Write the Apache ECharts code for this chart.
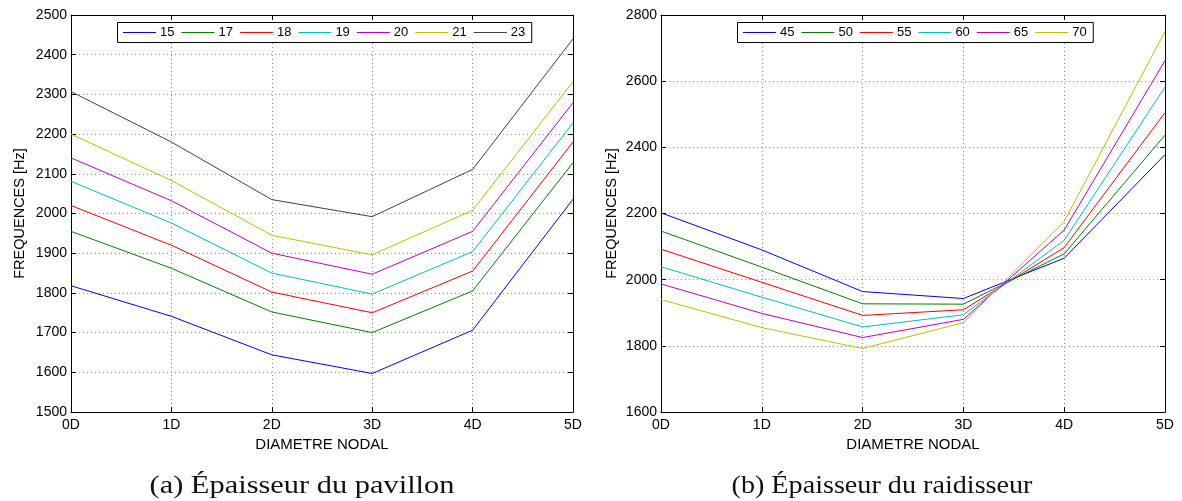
<!DOCTYPE html>
<html><head><meta charset="utf-8">
<script src="https://cdn.jsdelivr.net/npm/echarts@6/dist/echarts.min.js"></script>
<style>html,body{margin:0;padding:0;background:#fff}#c{width:1182px;height:501px}</style>
</head><body><div id="c"></div>
<script>
const categories = ['0D','1D','2D','3D','4D','5D'];
const leftNames = ['15','17','18','19','20','21','23'];
const leftColors = ['#0000ff','#008000','#ff0000','#00bfbf','#bf00bf','#bfbf00','#404040'];
const left15 = [1818,1741,1644,1597,1706,2036];
const left17 = [1955,1862,1752,1700,1805,2128];
const left18 = [2020,1920,1802,1750,1855,2180];
const left19 = [2081,1976,1850,1797,1904,2228];
const left20 = [2140,2032,1900,1847,1955,2279];
const left21 = [2200,2083,1945,1896,2008,2332];
const left23 = [2307,2180,2035,1992,2111,2440];
const leftData = [left15,left17,left18,left19,left20,left21,left23];

const rightNames = ['45','50','55','60','65','70'];
const rightColors = ['#0000ff','#008000','#ff0000','#00bfbf','#bf00bf','#bfbf00'];
const right45 = [2202,2090,1964,1943,2065,2378];
const right50 = [2147,2038,1927,1926,2078,2437];
const right55 = [2092,1992,1892,1909,2097,2505];
const right60 = [2039,1947,1857,1894,2119,2582];
const right65 = [1987,1898,1825,1880,2150,2662];
const right70 = [1940,1855,1792,1870,2176,2750];
const rightData = [right45,right50,right55,right60,right65,right70];

const leftYTicks = {min:1500, max:2500, interval:100};
const rightYTicks = {min:1600, max:2800, interval:200};

const captionA = '(a) Épaisseur du pavillon';
const captionB = '(b) Épaisseur du raidisseur';

const FONT = 'Liberation Sans';
const SERIF = 'Liberation Serif';
const chart = echarts.init(document.getElementById('c'));

function xAxes(gi){
  return [{
    type:'category', gridIndex:gi, data:categories, boundaryGap:false,
    axisLine:{lineStyle:{color:'#000',width:1}},
    axisTick:{inside:true,length:5,lineStyle:{color:'#000'}},
    axisLabel:{color:'#000',fontFamily:FONT,fontSize:14,margin:6},
    splitLine:{show:true,lineStyle:{color:'#999',type:[1,3],width:1}},
    name:'DIAMETRE NODAL', nameLocation:'middle', nameGap:21,
    nameTextStyle:{color:'#000',fontFamily:FONT,fontSize:15}
  },{
    type:'category', gridIndex:gi, data:categories, boundaryGap:false, position:'top',
    axisLine:{lineStyle:{color:'#000',width:1}},
    axisTick:{inside:true,length:5,lineStyle:{color:'#000'}},
    axisLabel:{show:false}, splitLine:{show:false}
  }];
}
function yAxes(gi, t, gap){
  return [{
    type:'value', gridIndex:gi, min:t.min, max:t.max, interval:t.interval,
    axisLine:{show:true,lineStyle:{color:'#000',width:1}},
    axisTick:{show:true,inside:true,length:5,lineStyle:{color:'#000'}},
    axisLabel:{color:'#000',fontFamily:FONT,fontSize:14,margin:4,formatter:v=>String(v)},
    splitLine:{show:true,lineStyle:{color:'#999',type:[1,3],width:1}},
    name:'FREQUENCES [Hz]', nameLocation:'middle', nameGap:gap,
    nameTextStyle:{color:'#000',fontFamily:FONT,fontSize:14.5}
  },{
    type:'value', gridIndex:gi, min:t.min, max:t.max, interval:t.interval, position:'right',
    axisLine:{show:true,lineStyle:{color:'#000',width:1}},
    axisTick:{show:true,inside:true,length:5,lineStyle:{color:'#000'}},
    axisLabel:{show:false}, splitLine:{show:false}
  }];
}

const series = [];
leftNames.forEach((n,i)=>series.push({
  name:n, type:'line', xAxisIndex:0, yAxisIndex:0, data:leftData[i], color:leftColors[i],
  symbol:'none', lineStyle:{color:leftColors[i],width:1}, itemStyle:{color:leftColors[i]}, silent:true
}));
rightNames.forEach((n,i)=>series.push({
  name:'r'+n, type:'line', xAxisIndex:2, yAxisIndex:2, data:rightData[i], color:rightColors[i],
  symbol:'none', lineStyle:{color:rightColors[i],width:1}, itemStyle:{color:rightColors[i]}, silent:true
}));

function measure(txt, font){
  const c = document.createElement('canvas').getContext('2d');
  c.font = font; return c.measureText(txt).width;
}

// Legend drawn as graphic elements (box, coloured line samples, labels)
const legFont = '13px "' + FONT + '"';
function legend(names, colors, left, top){
  const els = [];
  let x = left + 6;
  const cy = top + 10.5;
  names.forEach((n,i)=>{
    els.push({type:'line', silent:true, z:101,
      shape:{x1:x, y1:cy, x2:x+33, y2:cy}, style:{stroke:colors[i], lineWidth:1}});
    els.push({type:'text', silent:true, z:101, x:x+37, y:cy,
      style:{text:n, font:legFont, fill:'#000', textVerticalAlign:'middle'}});
    x += 37 + measure(n, legFont) + 7;
  });
  const w = x - 7 + 6 - left;
  els.unshift({type:'rect', silent:true, z:100,
    shape:{x:left+0.5, y:top+0.5, width:w, height:20},
    style:{fill:'#fff', stroke:'#000', lineWidth:1}});
  return els;
}

const capFont = '25px "' + SERIF + '"';
function caption(txt, cx, targetW){
  const w = measure(txt, capFont);
  const s = targetW / w;
  return {type:'text', x:cx, y:499, scaleX:s, originX:0, silent:true,
    style:{text:txt, font:capFont, fill:'#111', textAlign:'center', textVerticalAlign:'bottom'}};
}

chart.setOption({
  animation:false,
  backgroundColor:'#fff',
  grid:[
    {left:71,right:609,top:15,bottom:89,containLabel:false},
    {left:661,right:17,top:15,bottom:89,containLabel:false}
  ],
  xAxis:[...xAxes(0),...xAxes(1)],
  yAxis:[...yAxes(0,leftYTicks,44),...yAxes(1,rightYTicks,42)],
  graphic:[
    ...legend(leftNames, leftColors, 117, 22),
    ...legend(rightNames, rightColors, 737, 22),
    caption(captionA, 302, 305),
    caption(captionB, 882, 301)
  ],
  series
});
</script></body></html>
